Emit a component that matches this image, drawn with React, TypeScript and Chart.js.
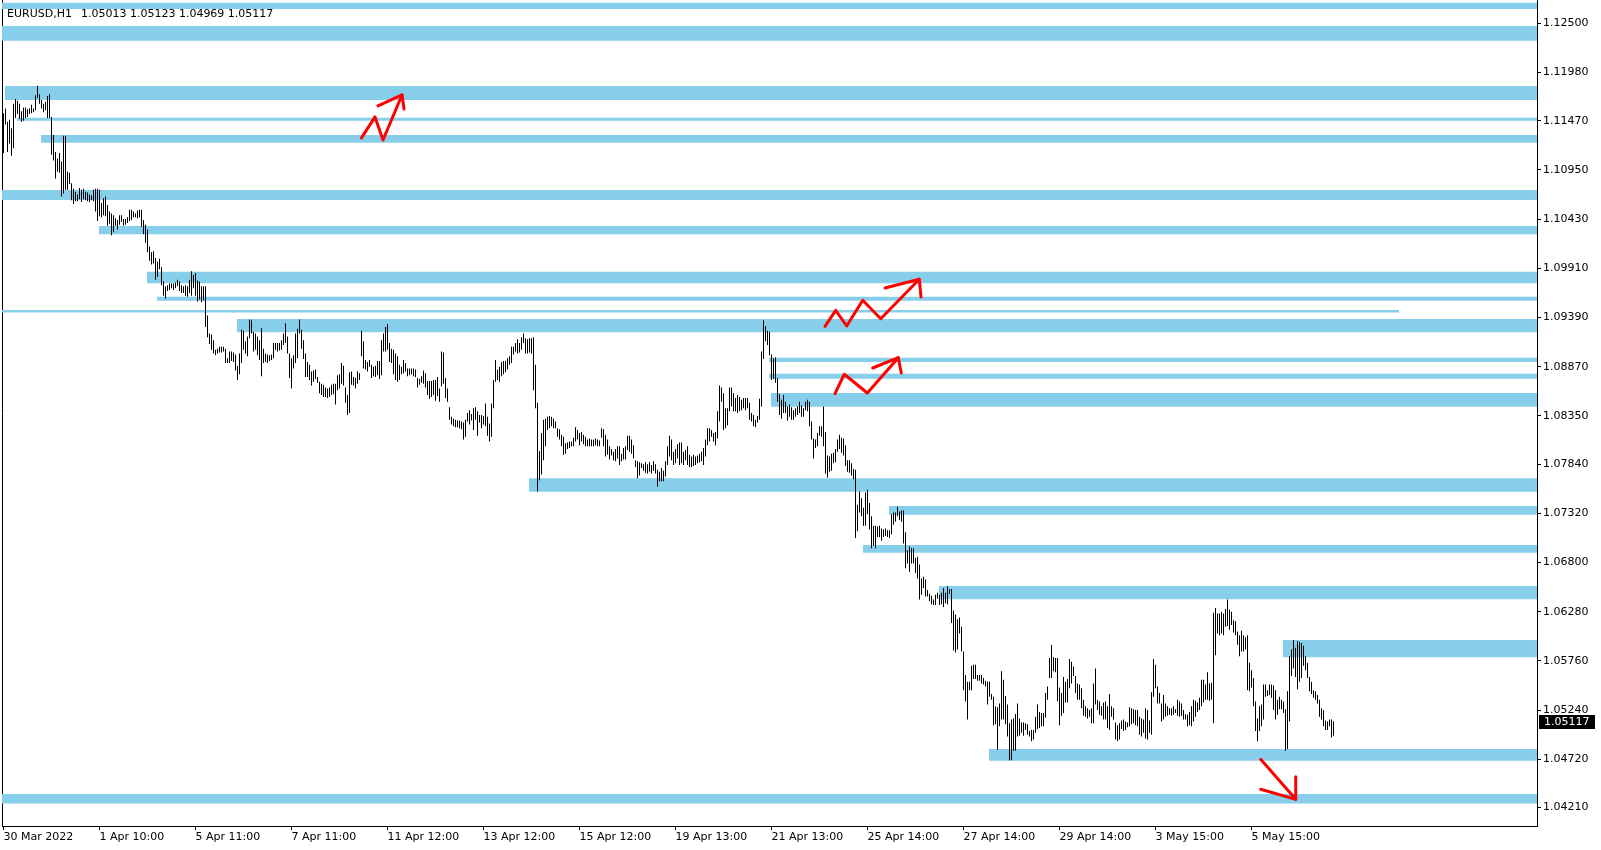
import React, { useEffect, useRef } from 'react';
import { Chart, registerables } from 'chart.js';

Chart.register(...registerables);

// ---- header / last bar ----
const symbolLabel = 'EURUSD,H1';
const lastOHLC = [1.05013, 1.05123, 1.04969, 1.05117];
const lastClose = 1.05117;

// ---- axes ----
const xTickBars = [0, 48, 96, 144, 192, 240, 288, 336, 384, 432, 480, 528, 576, 624];
const xTickLabels = ['30 Mar 2022', '1 Apr 10:00', '5 Apr 11:00', '7 Apr 11:00', '11 Apr 12:00', '13 Apr 12:00', '15 Apr 12:00', '19 Apr 13:00', '21 Apr 13:00', '25 Apr 14:00', '27 Apr 14:00', '29 Apr 14:00', '3 May 15:00', '5 May 15:00'];
const yTickValues = [1.125, 1.1198, 1.1147, 1.1095, 1.1043, 1.0991, 1.0939, 1.0887, 1.0835, 1.0784, 1.0732, 1.068, 1.0628, 1.0576, 1.0524, 1.0472, 1.0421];
const yMin = 1.04015;
const yMax = 1.12746;
const xMin = -0.75;
const xMax = 766.75;

// ---- hourly bars (high / low) ----
const highs = [
  1.1155, 1.1160, 1.1146, 1.1148, 1.1139, 1.1165, 1.1170, 1.1168, 1.1165, 1.1157,
  1.1161, 1.1161, 1.1159, 1.1160, 1.1164, 1.1160, 1.1174, 1.1184, 1.1175, 1.1169,
  1.1165, 1.1167, 1.1173, 1.1175, 1.1151, 1.1132, 1.1114, 1.1107, 1.1113, 1.1104,
  1.1131, 1.1131, 1.1093, 1.1092, 1.1081, 1.1075, 1.1072, 1.1069, 1.1076, 1.1074,
  1.1075, 1.1072, 1.1071, 1.1069, 1.1068, 1.1074, 1.1075, 1.1075, 1.1074, 1.1060,
  1.1065, 1.1067, 1.1058, 1.1051, 1.1049, 1.1047, 1.1044, 1.1042, 1.1047, 1.1047,
  1.1043, 1.1043, 1.1045, 1.1053, 1.1053, 1.1051, 1.1049, 1.1052, 1.1053, 1.1053,
  1.1042, 1.1037, 1.1032, 1.1014, 1.1008, 1.1009, 1.1002, 1.0998, 1.1001, 1.0992,
  1.0977, 1.0972, 1.0973, 1.0975, 1.0975, 1.0975, 1.0976, 1.0979, 1.0977, 1.0973,
  1.0972, 1.0973, 1.0972, 1.0979, 1.0988, 1.0984, 1.0986, 1.0978, 1.0977, 1.0972,
  1.0972, 1.0972, 1.0941, 1.0922, 1.0921, 1.0915, 1.0905, 1.0906, 1.0908, 1.0908,
  1.0908, 1.0906, 1.0896, 1.0903, 1.0903, 1.0902, 1.0900, 1.0888, 1.0901, 1.0926,
  1.0925, 1.0914, 1.0919, 1.0937, 1.0936, 1.0924, 1.0922, 1.0919, 1.0915, 1.0928,
  1.0906, 1.0901, 1.0900, 1.0899, 1.0900, 1.0912, 1.0912, 1.0912, 1.0912, 1.0915,
  1.0922, 1.0933, 1.0919, 1.0901, 1.0896, 1.0899, 1.0922, 1.0927, 1.0937, 1.0926,
  1.0915, 1.0901, 1.0892, 1.0889, 1.0882, 1.0883, 1.0884, 1.0876, 1.0871, 1.0869,
  1.0868, 1.0865, 1.0864, 1.0865, 1.0868, 1.0869, 1.0869, 1.0878, 1.0879, 1.0891,
  1.0888, 1.0865, 1.0857, 1.0881, 1.0882, 1.0876, 1.0875, 1.0882, 1.0880, 1.0925,
  1.0914, 1.0894, 1.0892, 1.0894, 1.0889, 1.0887, 1.0888, 1.0893, 1.0893, 1.0915,
  1.0922, 1.0929, 1.0932, 1.0912, 1.0906, 1.0905, 1.0901, 1.0898, 1.0889, 1.0887,
  1.0894, 1.0891, 1.0885, 1.0885, 1.0885, 1.0885, 1.0884, 1.0875, 1.0874, 1.0877,
  1.0883, 1.0880, 1.0872, 1.0872, 1.0872, 1.0873, 1.0873, 1.0876, 1.0864, 1.0903,
  1.0902, 1.0875, 1.0864, 1.0844, 1.0834, 1.0832, 1.0831, 1.0830, 1.0830, 1.0829,
  1.0828, 1.0831, 1.0838, 1.0841, 1.0837, 1.0843, 1.0844, 1.0840, 1.0836, 1.0836,
  1.0835, 1.0848, 1.0834, 1.0827, 1.0848, 1.0873, 1.0894, 1.0884, 1.0887, 1.0892,
  1.0893, 1.0893, 1.0896, 1.0898, 1.0908, 1.0908, 1.0912, 1.0916, 1.0912, 1.0918,
  1.0922, 1.0917, 1.0916, 1.0917, 1.0917, 1.0918, 1.0889, 1.0849, 1.0798, 1.0817,
  1.0831, 1.0832, 1.0834, 1.0835, 1.0834, 1.0832, 1.0829, 1.0822, 1.0821, 1.0815,
  1.0813, 1.0806, 1.0807, 1.0808, 1.0808, 1.0812, 1.0823, 1.0820, 1.0817, 1.0818,
  1.0815, 1.0813, 1.0810, 1.0811, 1.0810, 1.0810, 1.0811, 1.0810, 1.0809, 1.0822,
  1.0821, 1.0815, 1.0810, 1.0803, 1.0800, 1.0797, 1.0800, 1.0803, 1.0803, 1.0795,
  1.0801, 1.0803, 1.0814, 1.0814, 1.0810, 1.0804, 1.0788, 1.0787, 1.0786, 1.0785,
  1.0784, 1.0786, 1.0784, 1.0786, 1.0783, 1.0787, 1.0784, 1.0778, 1.0776, 1.0780,
  1.0777, 1.0787, 1.0803, 1.0814, 1.0810, 1.0797, 1.0800, 1.0805, 1.0807, 1.0807,
  1.0797, 1.0799, 1.0803, 1.0794, 1.0792, 1.0794, 1.0792, 1.0793, 1.0795, 1.0797,
  1.0801, 1.0810, 1.0822, 1.0822, 1.0820, 1.0817, 1.0818, 1.0840, 1.0867, 1.0865,
  1.0859, 1.0843, 1.0843, 1.0865, 1.0865, 1.0859, 1.0854, 1.0857, 1.0855, 1.0852,
  1.0854, 1.0854, 1.0854, 1.0849, 1.0838, 1.0836, 1.0831, 1.0835, 1.0853, 1.0903,
  1.0936, 1.0930, 1.0925, 1.0924, 1.0900, 1.0896, 1.0897, 1.0875, 1.0858, 1.0852,
  1.0857, 1.0850, 1.0845, 1.0847, 1.0844, 1.0841, 1.0843, 1.0845, 1.0850, 1.0846,
  1.0843, 1.0850, 1.0852, 1.0850, 1.0829, 1.0811, 1.0810, 1.0817, 1.0824, 1.0824,
  1.0845, 1.0818, 1.0793, 1.0792, 1.0795, 1.0796, 1.0800, 1.0810, 1.0815, 1.0812,
  1.0811, 1.0804, 1.0788, 1.0788, 1.0785, 1.0779, 1.0778, 1.0741, 1.0755, 1.0748,
  1.0738, 1.0754, 1.0757, 1.0743, 1.0729, 1.0719, 1.0719, 1.0718, 1.0719, 1.0716,
  1.0715, 1.0716, 1.0714, 1.0714, 1.0731, 1.0733, 1.0733, 1.0739, 1.0734, 1.0735,
  1.0735, 1.0712, 1.0693, 1.0697, 1.0695, 1.0695, 1.0685, 1.0686, 1.0678, 1.0663,
  1.0665, 1.0662, 1.0651, 1.0647, 1.0645, 1.0641, 1.0646, 1.0648, 1.0646, 1.0648,
  1.0653, 1.0648, 1.0655, 1.0652, 1.0652, 1.0629, 1.0625, 1.0620, 1.0622, 1.0612,
  1.0586, 1.0561, 1.0554, 1.0554, 1.0571, 1.0572, 1.0572, 1.0561, 1.0561, 1.0561,
  1.0558, 1.0555, 1.0554, 1.0554, 1.0541, 1.0538, 1.0528, 1.0527, 1.0531, 1.0565,
  1.0556, 1.0539, 1.0530, 1.0510, 1.0514, 1.0515, 1.0520, 1.0531, 1.0515, 1.0511,
  1.0511, 1.0510, 1.0509, 1.0502, 1.0503, 1.0503, 1.0517, 1.0530, 1.0522, 1.0521,
  1.0521, 1.0542, 1.0549, 1.0579, 1.0593, 1.0580, 1.0579, 1.0579, 1.0548, 1.0542,
  1.0559, 1.0554, 1.0557, 1.0578, 1.0575, 1.0570, 1.0560, 1.0552, 1.0551, 1.0547,
  1.0535, 1.0528, 1.0526, 1.0524, 1.0526, 1.0552, 1.0568, 1.0535, 1.0533, 1.0528,
  1.0532, 1.0533, 1.0528, 1.0541, 1.0528, 1.0526, 1.0511, 1.0508, 1.0510, 1.0513,
  1.0514, 1.0512, 1.0511, 1.0527, 1.0526, 1.0525, 1.0524, 1.0524, 1.0517, 1.0515,
  1.0514, 1.0526, 1.0524, 1.0513, 1.0543, 1.0578, 1.0572, 1.0549, 1.0542, 1.0531,
  1.0540, 1.0531, 1.0528, 1.0526, 1.0526, 1.0528, 1.0525, 1.0535, 1.0533, 1.0531,
  1.0524, 1.0520, 1.0519, 1.0522, 1.0528, 1.0535, 1.0534, 1.0532, 1.0537, 1.0556,
  1.0556, 1.0551, 1.0564, 1.0552, 1.0553, 1.0627, 1.0632, 1.0626, 1.0626, 1.0628,
  1.0626, 1.0631, 1.0641, 1.0630, 1.0628, 1.0619, 1.0618, 1.0607, 1.0603, 1.0608,
  1.0603, 1.0601, 1.0603, 1.0574, 1.0566, 1.0558, 1.0533, 1.0515, 1.0528, 1.0530,
  1.0551, 1.0551, 1.0545, 1.0551, 1.0551, 1.0550, 1.0545, 1.0535, 1.0538, 1.0535,
  1.0533, 1.0525, 1.0544, 1.0581, 1.0588, 1.0598, 1.0590, 1.0597, 1.0596, 1.0595,
  1.0592, 1.0581, 1.0574, 1.0559, 1.0554, 1.0545, 1.0544, 1.0540, 1.0535, 1.0526,
  1.0524, 1.0513, 1.0512, 1.0514, 1.0514, 1.05123,
];
const lows = [
  1.1113, 1.1143, 1.1114, 1.1123, 1.1110, 1.1118, 1.1150, 1.1154, 1.1149, 1.1146,
  1.1147, 1.1150, 1.1151, 1.1154, 1.1155, 1.1156, 1.1158, 1.1171, 1.1165, 1.1160,
  1.1156, 1.1158, 1.1150, 1.1150, 1.1111, 1.1105, 1.1086, 1.1093, 1.1092, 1.1067,
  1.1070, 1.1074, 1.1074, 1.1080, 1.1063, 1.1059, 1.1062, 1.1062, 1.1064, 1.1061,
  1.1064, 1.1063, 1.1062, 1.1061, 1.1063, 1.1062, 1.1051, 1.1041, 1.1046, 1.1045,
  1.1047, 1.1046, 1.1036, 1.1038, 1.1026, 1.1029, 1.1036, 1.1032, 1.1037, 1.1040,
  1.1036, 1.1037, 1.1039, 1.1041, 1.1042, 1.1045, 1.1045, 1.1044, 1.1045, 1.1035,
  1.1027, 1.1018, 1.1008, 1.0999, 1.0995, 1.0996, 1.0979, 1.0982, 1.0990, 1.0973,
  1.0962, 1.0959, 1.0967, 1.0968, 1.0970, 1.0968, 1.0970, 1.0972, 1.0967, 1.0965,
  1.0965, 1.0962, 1.0961, 1.0965, 1.0962, 1.0970, 1.0962, 1.0956, 1.0958, 1.0955,
  1.0957, 1.0929, 1.0918, 1.0911, 1.0905, 1.0901, 1.0899, 1.0901, 1.0902, 1.0902,
  1.0903, 1.0891, 1.0891, 1.0891, 1.0893, 1.0892, 1.0883, 1.0873, 1.0879, 1.0891,
  1.0905, 1.0901, 1.0898, 1.0917, 1.0922, 1.0903, 1.0905, 1.0899, 1.0894, 1.0877,
  1.0891, 1.0892, 1.0891, 1.0893, 1.0894, 1.0896, 1.0905, 1.0903, 1.0904, 1.0905,
  1.0910, 1.0912, 1.0901, 1.0875, 1.0864, 1.0885, 1.0891, 1.0896, 1.0922, 1.0906,
  1.0895, 1.0876, 1.0876, 1.0873, 1.0867, 1.0871, 1.0874, 1.0870, 1.0859, 1.0857,
  1.0855, 1.0855, 1.0854, 1.0855, 1.0857, 1.0858, 1.0847, 1.0862, 1.0864, 1.0869,
  1.0867, 1.0849, 1.0836, 1.0838, 1.0868, 1.0867, 1.0864, 1.0869, 1.0873, 1.0898,
  1.0885, 1.0884, 1.0882, 1.0887, 1.0875, 1.0877, 1.0876, 1.0878, 1.0874, 1.0878,
  1.0903, 1.0903, 1.0905, 1.0892, 1.0891, 1.0879, 1.0873, 1.0871, 1.0873, 1.0879,
  1.0880, 1.0882, 1.0877, 1.0878, 1.0879, 1.0877, 1.0876, 1.0865, 1.0868, 1.0870,
  1.0869, 1.0865, 1.0857, 1.0853, 1.0855, 1.0857, 1.0851, 1.0856, 1.0850, 1.0866,
  1.0869, 1.0854, 1.0850, 1.0831, 1.0826, 1.0824, 1.0823, 1.0823, 1.0822, 1.0821,
  1.0810, 1.0813, 1.0829, 1.0826, 1.0830, 1.0820, 1.0831, 1.0814, 1.0828, 1.0822,
  1.0826, 1.0824, 1.0814, 1.0808, 1.0813, 1.0843, 1.0871, 1.0873, 1.0871, 1.0877,
  1.0879, 1.0881, 1.0884, 1.0889, 1.0891, 1.0900, 1.0903, 1.0901, 1.0902, 1.0905,
  1.0912, 1.0901, 1.0901, 1.0902, 1.0901, 1.0862, 1.0843, 1.0755, 1.0767, 1.0773,
  1.0788, 1.0803, 1.0820, 1.0822, 1.0824, 1.0822, 1.0822, 1.0813, 1.0810, 1.0803,
  1.0794, 1.0795, 1.0800, 1.0801, 1.0803, 1.0803, 1.0808, 1.0810, 1.0804, 1.0808,
  1.0805, 1.0803, 1.0803, 1.0803, 1.0803, 1.0803, 1.0804, 1.0803, 1.0803, 1.0812,
  1.0803, 1.0792, 1.0794, 1.0789, 1.0793, 1.0788, 1.0787, 1.0790, 1.0783, 1.0787,
  1.0789, 1.0789, 1.0799, 1.0797, 1.0795, 1.0790, 1.0781, 1.0769, 1.0772, 1.0780,
  1.0777, 1.0775, 1.0774, 1.0776, 1.0774, 1.0777, 1.0774, 1.0760, 1.0766, 1.0766,
  1.0766, 1.0771, 1.0783, 1.0792, 1.0788, 1.0783, 1.0785, 1.0790, 1.0783, 1.0785,
  1.0783, 1.0788, 1.0783, 1.0781, 1.0781, 1.0782, 1.0783, 1.0785, 1.0786, 1.0787,
  1.0783, 1.0792, 1.0804, 1.0808, 1.0813, 1.0808, 1.0804, 1.0811, 1.0829, 1.0850,
  1.0820, 1.0822, 1.0825, 1.0840, 1.0845, 1.0840, 1.0840, 1.0838, 1.0840, 1.0841,
  1.0843, 1.0841, 1.0843, 1.0831, 1.0829, 1.0824, 1.0823, 1.0828, 1.0831, 1.0845,
  1.0895, 1.0914, 1.0910, 1.0899, 1.0873, 1.0874, 1.0870, 1.0850, 1.0836, 1.0832,
  1.0838, 1.0838, 1.0830, 1.0834, 1.0831, 1.0831, 1.0834, 1.0836, 1.0838, 1.0834,
  1.0834, 1.0841, 1.0840, 1.0824, 1.0810, 1.0790, 1.0801, 1.0803, 1.0814, 1.0813,
  1.0803, 1.0774, 1.0770, 1.0776, 1.0777, 1.0785, 1.0786, 1.0797, 1.0800, 1.0796,
  1.0793, 1.0782, 1.0776, 1.0775, 1.0772, 1.0768, 1.0706, 1.0713, 1.0733, 1.0729,
  1.0719, 1.0719, 1.0731, 1.0715, 1.0695, 1.0698, 1.0695, 1.0707, 1.0707, 1.0703,
  1.0707, 1.0708, 1.0707, 1.0706, 1.0710, 1.0720, 1.0723, 1.0729, 1.0725, 1.0723,
  1.0700, 1.0674, 1.0679, 1.0670, 1.0679, 1.0679, 1.0669, 1.0663, 1.0641, 1.0646,
  1.0653, 1.0644, 1.0644, 1.0639, 1.0636, 1.0635, 1.0635, 1.0642, 1.0635, 1.0636,
  1.0633, 1.0637, 1.0636, 1.0647, 1.0616, 1.0587, 1.0585, 1.0588, 1.0605, 1.0586,
  1.0545, 1.0533, 1.0514, 1.0545, 1.0545, 1.0557, 1.0557, 1.0555, 1.0555, 1.0552,
  1.0551, 1.0549, 1.0530, 1.0538, 1.0535, 1.0508, 1.0509, 1.0482, 1.0507, 1.0514,
  1.0514, 1.0509, 1.0496, 1.0471, 1.0471, 1.0481, 1.0481, 1.0496, 1.0497, 1.0500,
  1.0497, 1.0503, 1.0498, 1.0496, 1.0491, 1.0493, 1.0500, 1.0504, 1.0505, 1.0507,
  1.0507, 1.0516, 1.0535, 1.0558, 1.0558, 1.0565, 1.0564, 1.0533, 1.0508, 1.0518,
  1.0521, 1.0532, 1.0532, 1.0547, 1.0552, 1.0560, 1.0542, 1.0535, 1.0535, 1.0526,
  1.0518, 1.0517, 1.0515, 1.0517, 1.0510, 1.0510, 1.0530, 1.0524, 1.0519, 1.0518,
  1.0514, 1.0514, 1.0505, 1.0503, 1.0517, 1.0514, 1.0493, 1.0491, 1.0493, 1.0504,
  1.0502, 1.0503, 1.0506, 1.0507, 1.0509, 1.0510, 1.0508, 1.0507, 1.0498, 1.0496,
  1.0500, 1.0494, 1.0493, 1.0500, 1.0498, 1.0538, 1.0547, 1.0531, 1.0531, 1.0512,
  1.0514, 1.0517, 1.0518, 1.0519, 1.0518, 1.0519, 1.0521, 1.0518, 1.0517, 1.0518,
  1.0514, 1.0514, 1.0507, 1.0508, 1.0507, 1.0512, 1.0517, 1.0522, 1.0524, 1.0528,
  1.0532, 1.0535, 1.0535, 1.0534, 1.0535, 1.0510, 1.0582, 1.0605, 1.0603, 1.0605,
  1.0603, 1.0612, 1.0613, 1.0609, 1.0614, 1.0606, 1.0603, 1.0593, 1.0581, 1.0586,
  1.0586, 1.0588, 1.0545, 1.0544, 1.0548, 1.0528, 1.0502, 1.0491, 1.0502, 1.0507,
  1.0514, 1.0538, 1.0539, 1.0540, 1.0537, 1.0524, 1.0514, 1.0519, 1.0525, 1.0525,
  1.0521, 1.0481, 1.0483, 1.0512, 1.0560, 1.0568, 1.0559, 1.0546, 1.0554, 1.0558,
  1.0571, 1.0566, 1.0558, 1.0544, 1.0541, 1.0537, 1.0535, 1.0531, 1.0517, 1.0514,
  1.0507, 1.0503, 1.0503, 1.0507, 1.0495, 1.04969,
];

// ---- support / resistance zones (price band, start bar, end bar) ----
const zoneTop = [1.12718, 1.12471, 1.11836, 1.11502, 1.11319, 1.10738, 1.10357, 1.09874, 1.0961, 1.0947, 1.09374, 1.08965, 1.08796, 1.08592, 1.0769, 1.07397, 1.06985, 1.06552, 1.05981, 1.04829, 1.04353];
const zoneBottom = [1.12652, 1.12316, 1.11689, 1.1147, 1.11238, 1.10632, 1.10269, 1.09752, 1.09568, 1.09442, 1.09233, 1.0892, 1.08743, 1.08447, 1.07549, 1.07306, 1.06904, 1.06411, 1.05798, 1.04705, 1.04254];
const zoneFrom = [-0.75, -0.75, 0.75, 6.75, 18.75, -0.75, 47.75, 71.75, 76.75, -0.75, 116.75, 382.75, 382.75, 383.75, 262.75, 442.75, 429.75, 467.75, 639.75, 492.75, -0.75];
const zoneTo = [767, 767, 767, 767, 767, 767, 767, 767, 767, 697.75, 767, 767, 767, 767, 767, 767, 767, 767, 767, 767, 767];

// ---- hand-drawn arrows: [bar, price] points ----
const arrowPaths = [
  [[179.0, 1.11288], [185.75, 1.1151], [189.75, 1.11266], [199.25, 1.11742]],
  [[187.25, 1.11626], [199.25, 1.11742], [200.25, 1.11594]],
  [[410.75, 1.09297], [416.1, 1.09466], [421.6, 1.093], [429.6, 1.09572], [438.6, 1.09377], [457.9, 1.09794]],
  [[440.75, 1.09702], [457.9, 1.09794], [458.75, 1.09607]],
  [[415.75, 1.08585], [420.4, 1.0879], [431.9, 1.08592], [447.4, 1.08965]],
  [[434.6, 1.08856], [447.4, 1.08965], [448.9, 1.08803]],
  [[628.6, 1.0472], [646.1, 1.04297]],
  [[628.6, 1.04403], [646.1, 1.04297], [646.1, 1.04536]],
];

const FONT = '"DejaVu Sans", sans-serif';

export default function App() {
  const ref = useRef<HTMLCanvasElement | null>(null);

  useEffect(() => {
    document.body.style.margin = '0';
    document.body.style.overflow = 'hidden';
    document.body.style.background = '#fff';
    const canvas = ref.current;
    if (!canvas) return;

    const zoneSets = zoneTop.map((top, k) => ({
      type: 'line' as const,
      data: [{ x: zoneFrom[k], y: top }, { x: zoneTo[k], y: top }],
      fill: { value: zoneBottom[k] },
      backgroundColor: '#87CEEB',
      borderColor: 'rgba(0,0,0,0)',
      borderWidth: 0,
      pointRadius: 0,
      tension: 0,
      order: 2,
      xAxisID: 'x',
      yAxisID: 'y',
    }));

    const arrowSets = arrowPaths.map((path) => ({
      type: 'line' as const,
      data: path.map(([x, y]) => ({ x, y })),
      fill: false,
      borderColor: '#FF0000',
      borderWidth: 3,
      borderJoinStyle: 'round' as const,
      borderCapStyle: 'round' as const,
      pointRadius: 0,
      tension: 0,
      order: 0,
      xAxisID: 'x',
      yAxisID: 'y',
    }));

    const barSet = {
      type: 'bar' as const,
      data: highs.map((h, i) => ({ x: i, y: [lows[i], h] })),
      backgroundColor: '#000000',
      borderWidth: 0,
      barThickness: 1,
      inflateAmount: 0,
      grouped: false,
      order: 1,
      xAxisID: 'x',
      yAxisID: 'y',
    };

    const overlay = {
      id: 'mtOverlay',
      afterDraw(chart: any) {
        const { ctx, chartArea, scales } = chart;
        ctx.save();
        ctx.font = `11px ${FONT}`;
        ctx.fillStyle = '#000';
        ctx.textBaseline = 'alphabetic';
        ctx.textAlign = 'left';
        const tx = chartArea.left + 5;
        ctx.fillText(symbolLabel, tx, 17);
        const w = ctx.measureText(symbolLabel).width;
        ctx.fillText(lastOHLC.map((v) => v.toFixed(5)).join(' '), tx + w + 9, 17);

        const py = scales.y.getPixelForValue(lastClose);
        ctx.fillStyle = '#000';
        ctx.fillRect(chartArea.right + 2, Math.round(py) - 7, 56, 14);
        ctx.fillStyle = '#fff';
        ctx.textBaseline = 'middle';
        ctx.fillText(lastClose.toFixed(5), chartArea.right + 7, py + 0.5);
        ctx.restore();
      },
    };

    const chart = new Chart(canvas, {
      type: 'bar',
      data: { datasets: [barSet as any, ...zoneSets, ...arrowSets] },
      options: {
        animation: false,
        responsive: false,
        maintainAspectRatio: false,
        devicePixelRatio: 1,
        events: [],
        layout: { padding: { left: 2, right: 0, top: 0, bottom: 0 } },
        plugins: {
          legend: { display: false },
          tooltip: { enabled: false },
          title: { display: false },
        },
        scales: {
          x: {
            type: 'linear',
            position: 'bottom',
            min: xMin,
            max: xMax,
            offset: false,
            afterBuildTicks: (axis: any) => {
              axis.ticks = xTickBars.map((v) => ({ value: v }));
            },
            afterFit: (axis: any) => {
              axis.height = 24;
              axis.paddingLeft = 0;
              axis.paddingRight = 0;
            },
            ticks: {
              autoSkip: false,
              maxRotation: 0,
              minRotation: 0,
              align: 'start',
              padding: 1,
              color: '#000',
              font: { family: FONT, size: 11 },
              callback: (_v: any, i: number) => xTickLabels[i],
            },
            grid: { display: true, drawOnChartArea: false, drawTicks: true, tickLength: 4, color: '#000', lineWidth: 1, offset: false },
            border: { display: true, color: '#000', width: 1 },
          },
          y: {
            type: 'linear',
            position: 'right',
            min: yMin,
            max: yMax,
            afterBuildTicks: (axis: any) => {
              axis.ticks = yTickValues.map((v) => ({ value: v }));
            },
            afterFit: (axis: any) => {
              axis.width = 64;
              axis.paddingTop = 0;
              axis.paddingBottom = 0;
            },
            ticks: {
              autoSkip: false,
              padding: 2,
              crossAlign: 'near',
              color: '#000',
              font: { family: FONT, size: 11 },
              callback: (v: any) => Number(v).toFixed(5),
            },
            grid: { display: true, drawOnChartArea: false, drawTicks: true, tickLength: 4, color: '#000', lineWidth: 1 },
            border: { display: true, color: '#000', width: 1 },
          },
          yl: {
            type: 'linear',
            position: 'left',
            min: 0,
            max: 1,
            ticks: { display: false },
            grid: { display: false, drawTicks: false },
            border: { display: true, color: '#000', width: 1 },
            afterFit: (axis: any) => {
              axis.width = 0;
              axis.paddingTop = 0;
              axis.paddingBottom = 0;
            },
          },
        },
      } as any,
      plugins: [overlay],
    });

    return () => chart.destroy();
  }, []);

  return <canvas ref={ref} width={1601} height={850} style={{ display: 'block', width: 1601, height: 850 }} />;
}
